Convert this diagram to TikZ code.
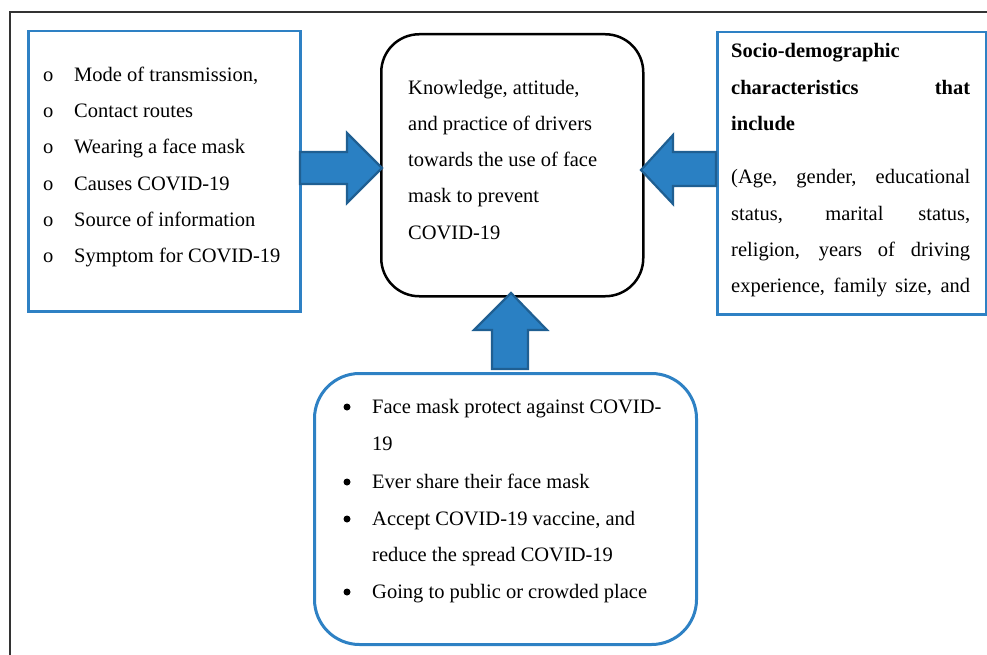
\documentclass[tikz,border=0pt]{standalone}
\usepackage{fontspec}
\setmainfont{Liberation Serif}
\definecolor{boxblue}{HTML}{2E81C4}
\definecolor{arrowfill}{HTML}{2A80C3}
\definecolor{arrowedge}{HTML}{1F5F92}
\begin{document}
\begin{tikzpicture}[x=1pt,y=-1pt,
  every node/.style={font=\fontsize{20.5}{24}\selectfont},
  txt/.style={anchor=base west, inner sep=0pt},
  dot/.style={circle, fill=black, minimum size=7pt, inner sep=0pt},
  sqbox/.style={draw=boxblue, line width=2.5pt, anchor=north west, inner sep=0pt},
  centerbox/.style={draw=black, line width=2.5pt, rounded corners=38pt, anchor=north west, inner sep=0pt},
  roundblue/.style={draw=boxblue, line width=3pt, rounded corners=45pt, anchor=north west, inner sep=0pt},
  blockarrow/.style={fill=arrowfill, draw=arrowedge, line width=2.2pt, line join=miter}]
\useasboundingbox (0,0) rectangle (987,655);
% outer frame (top and left edges visible)
\coordinate (fTL) at (10,12);
\coordinate (fTR) at (987,12);
\coordinate (fBL) at (10,655);
\draw[line width=1.4pt, black!80] (fTR) -- (fTL) -- (fBL);

% boxes
\node[sqbox, minimum width=272pt, minimum height=280pt] (L) at (27,30) {};
\node[sqbox, minimum width=269pt, minimum height=282pt] (R) at (716,31) {};
\node[centerbox, minimum width=262pt, minimum height=262pt] (C) at (380,33) {};
\node[roundblue, minimum width=382pt, minimum height=271pt] (B) at (313,372) {};

% block arrows
\draw[blockarrow] (300,152) -- (347,152) -- (347,133) -- (382,168) -- (347,203) -- (347,184) -- (300,184) -- cycle;
\draw[blockarrow] (716,152) -- (673,152) -- (673,135) -- (641,170) -- (673,204) -- (673,186) -- (716,186) -- cycle;
\draw[blockarrow] (492,369) -- (492,330) -- (474,330) -- (511,293) -- (547,330) -- (528,330) -- (528,369) -- cycle;

% left box text
\node[txt] (lb1) at (43,82) {o}; \node[txt] (lt1) at (74,82) {Mode of transmission,};
\node[txt] (lb2) at (43,118) {o}; \node[txt] (lt2) at (74,118) {Contact routes};
\node[txt] (lb3) at (43,154) {o}; \node[txt] (lt3) at (74,154) {Wearing a face mask};
\node[txt] (lb4) at (43,190) {o}; \node[txt] (lt4) at (74,190) {Causes COVID-19};
\node[txt] (lb5) at (43,226) {o}; \node[txt] (lt5) at (74,226) {Source of information};
\node[txt] (lb6) at (43,262) {o}; \node[txt] (lt6) at (74,262) {Symptom for COVID-19};

% center text
\node[txt] (c1) at (408,95) {Knowledge, attitude,};
\node[txt] (c2) at (408,131) {and practice of drivers};
\node[txt] (c3) at (408,167) {towards the use of face};
\node[txt] (c4) at (408,203) {mask to prevent};
\node[txt] (c5) at (408,239) {COVID-19};

% right box text
\node[txt] (r1) at (731,58) {\textbf{Socio-demographic}};
\node[txt] (r2) at (731,95) {\makebox[239pt][s]{\textbf{characteristics \hfill that}}};
\node[txt] (r3) at (731,131) {\textbf{include}};
\node[txt] (r4) at (731,183) {\makebox[239pt][s]{(Age, gender, educational}};
\node[txt] (r5) at (731,220) {\makebox[239pt][s]{status, marital status,}};
\node[txt] (r6) at (731,256) {\makebox[239pt][s]{religion, years of driving}};
\node[txt] (r7) at (731,292) {\makebox[239pt][s]{experience, family size, and}};

% bottom box text
\node[dot] (bb1) at (347,407) {}; \node[txt] (bt1) at (372,413) {Face mask protect against COVID-};
\node[txt] (bt1b) at (372,450) {19};
\node[dot] (bb2) at (347,482) {}; \node[txt] (bt2) at (372,488) {Ever share their face mask};
\node[dot] (bb3) at (347,519) {}; \node[txt] (bt3) at (372,525) {Accept COVID-19 vaccine, and};
\node[txt] (bt3b) at (372,561) {reduce the spread COVID-19};
\node[dot] (bb4) at (347,592) {}; \node[txt] (bt4) at (372,598) {Going to public or crowded place};
\end{tikzpicture}
\end{document}
